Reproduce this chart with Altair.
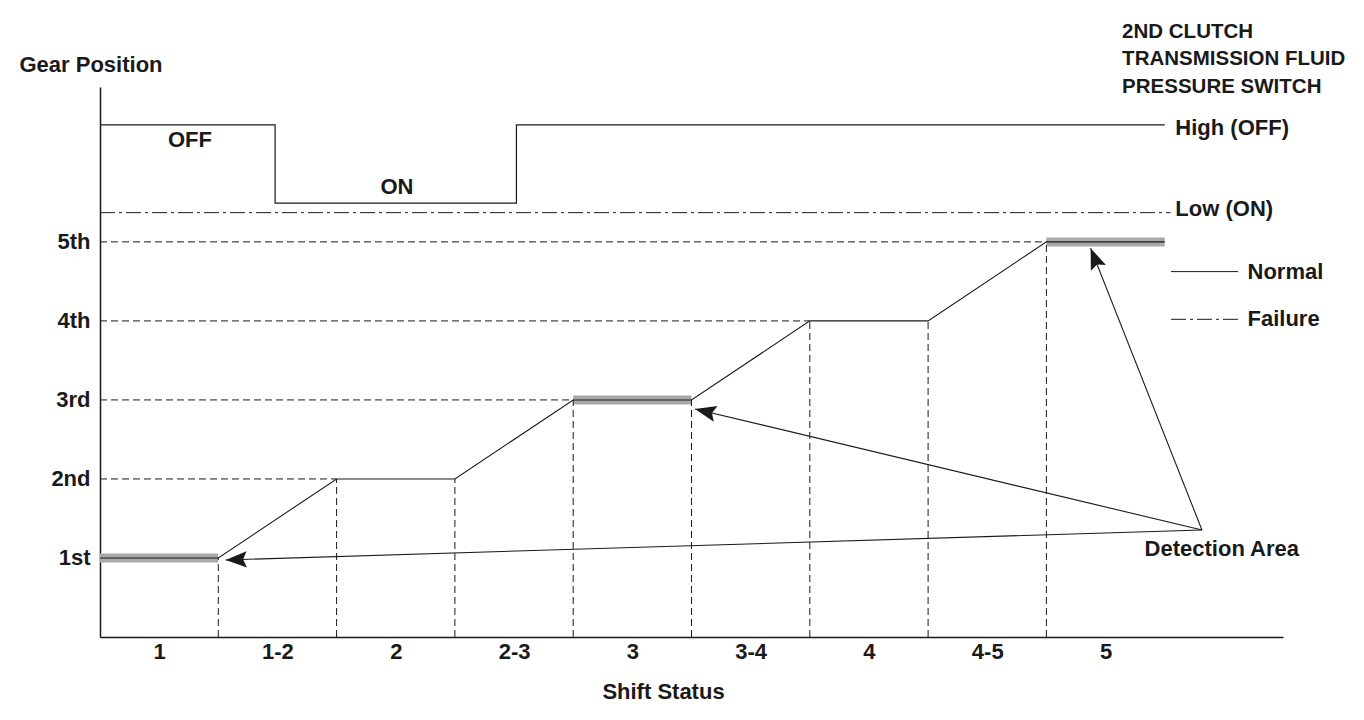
import math
import altair as alt
import pandas as pd

# ---------------- data ----------------
shift_labels = ["1", "1-2", "2", "2-3", "3", "3-4", "4", "4-5", "5"]
gear_labels = ["1st", "2nd", "3rd", "4th", "5th"]

# normal gear-position trace (x in shift-status units, y in gear levels)
gear_x = [0, 1, 2, 3, 4, 5, 6, 7, 8, 9]
gear_y = [1, 1, 2, 2, 3, 3, 4, 4, 5, 5]

# detection-area highlight bars
detect_x = [0, 4, 8]
detect_x2 = [1, 5, 9]
detect_y = [1, 3, 5]

# 2nd clutch pressure switch trace
switch_x = [0, 1.48, 1.48, 3.52, 3.52, 9.0]
switch_y = [6.48, 6.48, 5.49, 5.49, 6.48, 6.48]
low_y = 5.37
low_x_end = 9.05

# dashed guides
hguide_y = [2, 3, 4, 5]
hguide_x2 = [2, 4, 6, 8]
vguide_x = [1, 2, 3, 4, 5, 6, 7, 8]
vguide_y2 = [1, 2, 2, 3, 3, 4, 4, 5]

# arrows from "Detection Area"
arrow_ox, arrow_oy = 9.315, 1.354
arrow_tx = [1.062, 5.03, 8.374]
arrow_ty = [0.975, 2.886, 4.92]

# legend
legend_x, legend_x2 = 9.053, 9.62
legend_y = [4.624, 4.02]
legend_text = ["Normal", "Failure"]
legend_text_x = 9.70

# annotations
center_text = ["OFF", "ON"]
center_x = [0.76, 2.51]
center_y = [6.29, 5.70]

left_text = ["High (OFF)", "Low (ON)", "Detection Area"]
left_x = [9.09, 9.09, 8.83]
left_y = [6.44, 5.42, 1.11]

title_text = ["2ND CLUTCH", "TRANSMISSION FLUID", "PRESSURE SWITCH"]
title_x = [8.64, 8.64, 8.64]
title_y = [7.66, 7.32, 6.96]

# ---------------- layout ----------------
W, H = 1183, 550
XMAX, YMAX = 10, 6.96
FONT = "Liberation Sans"
FS = 22
FS_TITLE = 20.5
INK = "#1a1a1a"

xs = alt.Scale(domain=[0, XMAX], nice=False, zero=False)
ys = alt.Scale(domain=[0, YMAX], nice=False, zero=False)

px_x = W / XMAX
px_y = H / YMAX

gear_df = pd.DataFrame({"x": gear_x, "y": gear_y, "i": range(len(gear_x))})
detect_df = pd.DataFrame({"x": detect_x, "x2": detect_x2, "y": detect_y})
switch_df = pd.DataFrame({"x": switch_x, "y": switch_y, "i": range(len(switch_x))})
low_df = pd.DataFrame({"x": [0], "x2": [low_x_end], "y": [low_y]})
hg_df = pd.DataFrame({"x": [0] * len(hguide_y), "x2": hguide_x2, "y": hguide_y})
vg_df = pd.DataFrame({"x": vguide_x, "y": [0] * len(vguide_x), "y2": vguide_y2})

angles = []
for tx, ty in zip(arrow_tx, arrow_ty):
    dx = (tx - arrow_ox) * px_x
    dy = -(ty - arrow_oy) * px_y
    angles.append(math.degrees(math.atan2(dx, -dy)) % 360)
arrow_df = pd.DataFrame({
    "x": [arrow_ox] * len(arrow_tx), "y": [arrow_oy] * len(arrow_tx),
    "x2": arrow_tx, "y2": arrow_ty, "angle": angles,
})

leg_df = pd.DataFrame({"x": [legend_x] * 2, "x2": [legend_x2] * 2, "y": legend_y,
                       "t": legend_text, "tx": [legend_text_x] * 2})
ctext_df = pd.DataFrame({"x": center_x, "y": center_y, "t": center_text})
ltext_df = pd.DataFrame({"x": left_x, "y": left_y, "t": left_text})
ttext_df = pd.DataFrame({"x": title_x, "y": title_y, "t": title_text})

x_label_expr = "[" + ",".join(f"'{s}'" for s in shift_labels) + "][floor(datum.value)]"
y_label_expr = "['', " + ",".join(f"'{s}'" for s in gear_labels) + "][round(datum.value)]"

x_axis = alt.Axis(
    values=[i + 0.5 for i in range(len(shift_labels))], labelExpr=x_label_expr,
    ticks=False, grid=False, domainColor=INK, domainWidth=1.5,
    labelFont=FONT, labelFontSize=FS, labelFontWeight="bold", labelColor=INK,
    labelPadding=4, labelAngle=0,
    title="Shift Status", titleFont=FONT, titleFontSize=FS, titleFontWeight="bold",
    titleColor=INK, titleX=563, titleY=54, titleBaseline="middle", titleAnchor="middle",
)
y_axis = alt.Axis(
    values=[1, 2, 3, 4, 5], labelExpr=y_label_expr,
    ticks=False, grid=False, domainColor=INK, domainWidth=1.5,
    labelFont=FONT, labelFontSize=FS, labelFontWeight="bold", labelColor=INK,
    labelPadding=10, labelBaseline="middle",
    title="Gear Position", titleFont=FONT, titleFontSize=FS, titleFontWeight="bold",
    titleColor=INK, titleAngle=0, titleAlign="left", titleBaseline="middle",
    titleX=-81, titleY=-23,
)

base_axes = alt.Chart(pd.DataFrame({"x": [0], "y": [0]})).mark_point(opacity=0).encode(
    x=alt.X("x:Q", scale=xs, axis=x_axis),
    y=alt.Y("y:Q", scale=ys, axis=y_axis),
)

bars = alt.Chart(detect_df).mark_rule(color="#a8a8a8", strokeWidth=9).encode(
    x=alt.X("x:Q", scale=xs), x2="x2:Q", y=alt.Y("y:Q", scale=ys))

hguides = alt.Chart(hg_df).mark_rule(color=INK, strokeWidth=1, strokeDash=[7, 4]).encode(
    x=alt.X("x:Q", scale=xs), x2="x2:Q", y=alt.Y("y:Q", scale=ys))
vguides = alt.Chart(vg_df).mark_rule(color=INK, strokeWidth=1, strokeDash=[7, 4]).encode(
    x=alt.X("x:Q", scale=xs), y=alt.Y("y:Q", scale=ys), y2="y2:Q")

low_line = alt.Chart(low_df).mark_rule(color=INK, strokeWidth=1, strokeDash=[15, 4, 3, 4]).encode(
    x=alt.X("x:Q", scale=xs), x2="x2:Q", y=alt.Y("y:Q", scale=ys))

switch_line = alt.Chart(switch_df).mark_line(color=INK, strokeWidth=1.2).encode(
    x=alt.X("x:Q", scale=xs), y=alt.Y("y:Q", scale=ys), order="i:Q")

gear_line = alt.Chart(gear_df).mark_line(color=INK, strokeWidth=1.1).encode(
    x=alt.X("x:Q", scale=xs), y=alt.Y("y:Q", scale=ys), order="i:Q")

arrow_lines = alt.Chart(arrow_df).mark_rule(color=INK, strokeWidth=1.1).encode(
    x=alt.X("x:Q", scale=xs), y=alt.Y("y:Q", scale=ys), x2="x2:Q", y2="y2:Q")

arrow_heads = alt.Chart(arrow_df).mark_point(
    shape="M0,0L-0.65,1.7L0,1.4L0.65,1.7Z", filled=True, color=INK, size=620, opacity=1
).encode(
    x=alt.X("x2:Q", scale=xs), y=alt.Y("y2:Q", scale=ys),
    angle=alt.Angle("angle:Q", scale=None),
)

leg_normal = alt.Chart(leg_df.iloc[[0]]).mark_rule(color=INK, strokeWidth=1).encode(
    x=alt.X("x:Q", scale=xs), x2="x2:Q", y=alt.Y("y:Q", scale=ys))
leg_fail = alt.Chart(leg_df.iloc[[1]]).mark_rule(color=INK, strokeWidth=1, strokeDash=[15, 4, 3, 4]).encode(
    x=alt.X("x:Q", scale=xs), x2="x2:Q", y=alt.Y("y:Q", scale=ys))
leg_text = alt.Chart(leg_df).mark_text(
    align="left", baseline="middle", font=FONT, fontSize=FS, fontWeight="bold", color=INK
).encode(x=alt.X("tx:Q", scale=xs), y=alt.Y("y:Q", scale=ys), text="t:N")

ctext = alt.Chart(ctext_df).mark_text(
    align="center", baseline="middle", font=FONT, fontSize=FS, fontWeight="bold", color=INK
).encode(x=alt.X("x:Q", scale=xs), y=alt.Y("y:Q", scale=ys), text="t:N")
ltext = alt.Chart(ltext_df).mark_text(
    align="left", baseline="middle", font=FONT, fontSize=FS, fontWeight="bold", color=INK
).encode(x=alt.X("x:Q", scale=xs), y=alt.Y("y:Q", scale=ys), text="t:N")
ttext = alt.Chart(ttext_df).mark_text(
    align="left", baseline="middle", font=FONT, fontSize=FS_TITLE, fontWeight="bold", color=INK
).encode(x=alt.X("x:Q", scale=xs), y=alt.Y("y:Q", scale=ys), text="t:N")

chart = alt.layer(
    base_axes, bars, hguides, vguides, low_line, switch_line, gear_line,
    arrow_lines, arrow_heads, leg_normal, leg_fail, leg_text, ctext, ltext, ttext,
).properties(
    width=W, height=H,
    autosize=alt.AutoSizeParams(type="none"),
    padding={"left": 92, "top": 79, "right": 73, "bottom": 75},
    background="white",
).configure_view(stroke=None)

chart.save("out.html", embed_options={"renderer": "svg", "actions": False})
